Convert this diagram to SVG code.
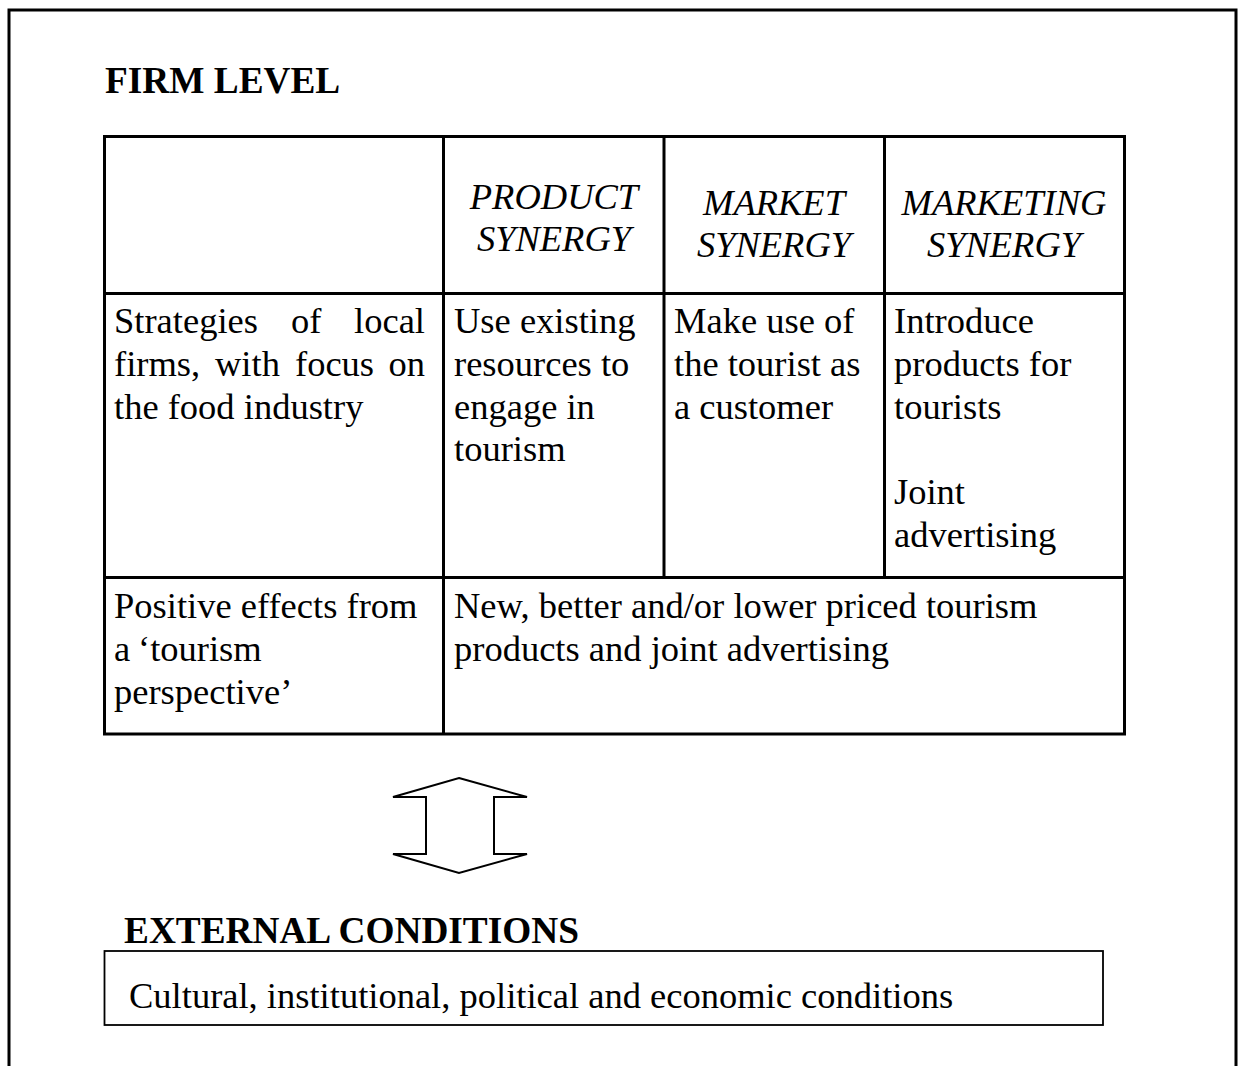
<svg xmlns="http://www.w3.org/2000/svg" width="1240" height="1066" viewBox="0 0 1240 1066">
<style>
  .frame { fill: none; stroke: #000; stroke-width: 3; }
  .grid { fill: none; stroke: #000; stroke-width: 3; }
  .thin { fill: #fff; stroke: #000; stroke-width: 1.8; }
  .title { font-family: "Liberation Serif", "Times New Roman", serif; font-weight: bold; font-size: 37.3px; fill: #000; }
  .body { font-family: "Liberation Serif", "Times New Roman", serif; font-size: 36.5px; fill: #000; }
  .head { font-family: "Liberation Serif", "Times New Roman", serif; font-style: italic; font-size: 36.5px; fill: #000; text-anchor: middle; }
</style>
<rect width="1240" height="1066" fill="#fff"/>
<rect class="frame" x="9" y="10" width="1227" height="1100"/>

<text class="title" x="105" y="93">FIRM LEVEL</text>

<g id="table">
  <rect class="grid" x="104.5" y="136.5" width="1020" height="597.5"/>
  <line class="grid" x1="443.5" y1="136.5" x2="443.5" y2="734"/>
  <line class="grid" x1="664" y1="136.5" x2="664" y2="577.5"/>
  <line class="grid" x1="884.5" y1="136.5" x2="884.5" y2="577.5"/>
  <line class="grid" x1="104.5" y1="293.5" x2="1124.5" y2="293.5"/>
  <line class="grid" x1="104.5" y1="577.5" x2="1124.5" y2="577.5"/>
</g>

<g id="head-product">
  <text class="head" x="554" y="209">PRODUCT</text>
  <text class="head" x="554" y="251">SYNERGY</text>
</g>
<g id="head-market">
  <text class="head" x="774" y="215">MARKET</text>
  <text class="head" x="774" y="257">SYNERGY</text>
</g>
<g id="head-marketing">
  <text class="head" x="1004" y="215">MARKETING</text>
  <text class="head" x="1004" y="257">SYNERGY</text>
</g>

<g id="cell-strategies">
  <text class="body" y="333"><tspan x="114">Strategies</tspan><tspan x="291">of</tspan><tspan x="425" text-anchor="end">local</tspan></text>
  <text class="body" y="376"><tspan x="114">firms,</tspan><tspan x="215">with</tspan><tspan x="295">focus</tspan><tspan x="425" text-anchor="end">on</tspan></text>
  <text class="body" x="114" y="419">the food industry</text>
</g>
<g id="cell-product">
  <text class="body" x="454" y="333">Use existing</text>
  <text class="body" x="454" y="376">resources to</text>
  <text class="body" x="454" y="419">engage in</text>
  <text class="body" x="454" y="461">tourism</text>
</g>
<g id="cell-market">
  <text class="body" x="674" y="333">Make use of</text>
  <text class="body" x="674" y="376">the tourist as</text>
  <text class="body" x="674" y="419">a customer</text>
</g>
<g id="cell-marketing">
  <text class="body" x="894" y="333">Introduce</text>
  <text class="body" x="894" y="376">products for</text>
  <text class="body" x="894" y="419">tourists</text>
  <text class="body" x="894" y="504">Joint</text>
  <text class="body" x="894" y="547">advertising</text>
</g>
<g id="cell-effects">
  <text class="body" x="114" y="618">Positive effects from</text>
  <text class="body" y="661"><tspan x="114">a</tspan><tspan x="138">‘tourism</tspan></text>
  <text class="body" x="114" y="704">perspective’</text>
</g>
<g id="cell-result">
  <text class="body" x="454" y="618">New, better and/or lower priced tourism</text>
  <text class="body" x="454" y="661">products and joint advertising</text>
</g>

<g id="connectors">
  <polygon points="459,778 527,797 494,797 494,854 527,854 459,873 393,854 426,854 426,797 393,797" fill="#fff" stroke="#000" stroke-width="2"/>
</g>

<g id="external">
  <text class="title" x="124" y="943">EXTERNAL CONDITIONS</text>
  <rect class="thin" x="104.5" y="951" width="998.5" height="74"/>
  <text class="body" x="129" y="1008">Cultural, institutional, political and economic conditions</text>
</g>
</svg>
